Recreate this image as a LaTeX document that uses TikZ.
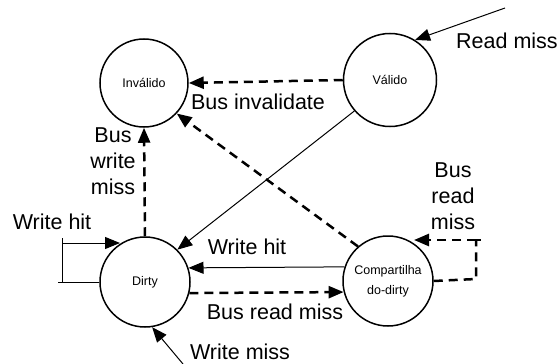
\documentclass[tikz,border=0pt]{standalone}
\usepackage{fontspec}
\setmainfont{Liberation Sans}
\usetikzlibrary{arrows.meta}
\begin{document}
\begin{tikzpicture}[x=1pt,y=-1pt,
  state/.style={circle,draw,line width=1.5pt,inner sep=0pt,font=\fontsize{12.5}{20}\selectfont,align=center},
  lbl/.style={font=\fontsize{21.5}{26}\selectfont,align=center,inner sep=0pt},
  tip/.style={-{Triangle[length=15pt,width=12pt]}},
  solidarr/.style={tip,line width=1pt},
  dasharr/.style={tip,line width=2.5pt,dash pattern=on 9pt off 6pt},
  dashline/.style={line width=2.5pt,dash pattern=on 9pt off 6pt}]
\useasboundingbox (0,0) rectangle (560,364);

\node[state,minimum size=88pt] (inv) at (144,83) {Inválido};
\node[state,minimum size=93pt] (val) at (390,80) {Válido};
\node[state,minimum size=90pt] (dirty) at (145,282) {Dirty};
\node[state,minimum size=90pt] (comp) at (388,281) {Compartilha\\do-dirty};

% Read miss
\coordinate (rm) at (505,8);
\draw[solidarr] (rm) -- (val.58);
\node[lbl] (lrm) at (507,41) {Read miss};

% Bus invalidate
\draw[dasharr] (val.west) -- (inv.east);
\node[lbl] (lbi) at (258,102) {Bus invalidate};

% Comp -> Inv
\draw[dasharr] (comp.131) -- (inv.-43);

% Dirty -> Inv
\draw[dasharr] (dirty.north) -- (inv.south);
\node[lbl] (lbwm) at (113,161) {Bus\\write\\miss};

% Valido -> Dirty
\draw[solidarr] (val.-139) -- (dirty.45);

% Dirty self loop (Write hit)
\coordinate (w1) at (62,282);
\coordinate (w2) at (62,243);
\coordinate (w3) at (120,243);
\coordinate (w0) at (58,282);
\draw[line width=1pt] (dirty.west) -- (w0);
\draw[line width=1pt] (62,238) -- (w1);
\draw[solidarr] (w2) -- (w3);
\node[lbl] (lwh1) at (52,222) {Write hit};

% Comp -> Dirty (Write hit)
\draw[solidarr] (comp.162) -- (dirty.18);
\node[lbl] (lwh2) at (247,247) {Write hit};

% Dirty -> Comp (Bus read miss)
\draw[dasharr] (dirty.-14) -- (comp.-166);
\node[lbl] (lbrm) at (275,312) {Bus read miss};

% Comp self loop
\coordinate (c1) at (476,279);
\coordinate (c2) at (476,240);
\coordinate (c3) at (414,240);
\draw[dashline] (comp.east) -- (c1) -- (c2);
\draw[dasharr] (c2) -- (c3);
\draw[line width=1.5pt] (471,240) -- (481,240);
\node[lbl] (lbrm2) at (453,196) {Bus\\read\\miss};

% Write miss
\coordinate (wm) at (183,364);
\draw[solidarr] (wm) -- (dirty.-81);
\node[lbl] (lwm) at (240,352) {Write miss};
\end{tikzpicture}
\end{document}
